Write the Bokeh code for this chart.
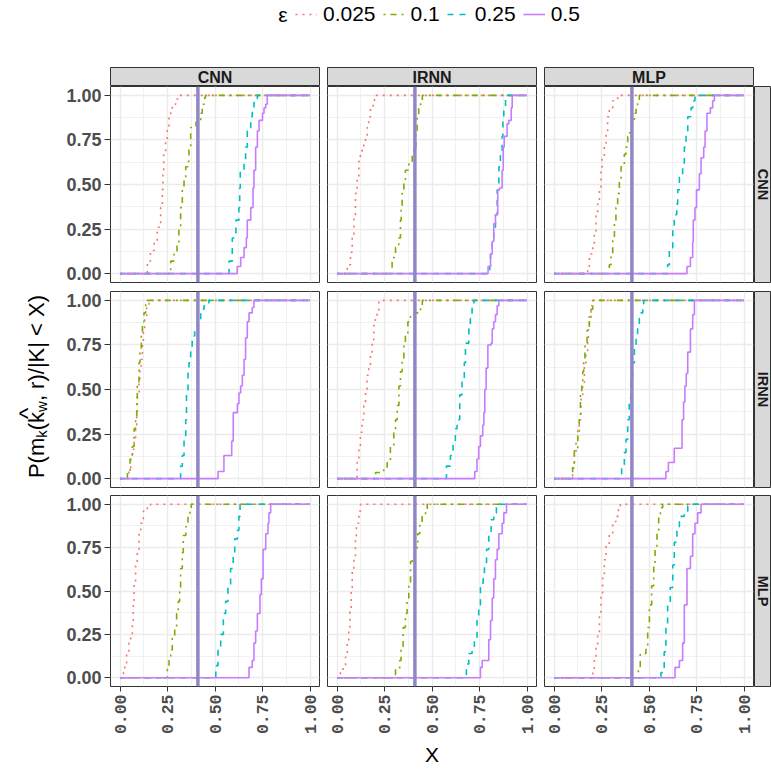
import math
from bokeh.plotting import figure
from bokeh.models import (Range1d, LinearAxis, Grid, FixedTicker, PrintfTickFormatter,
                          Span, Legend, LegendItem, Label)
from bokeh.layouts import row, column
from bokeh.embed import file_html
from bokeh.resources import INLINE
from bokeh.core.properties import value

# ---------------- data ----------------
FACETS = ["CNN", "IRNN", "MLP"]
EPS_LABELS = ["0.025", "0.1", "0.25", "0.5"]
TICKS = [0.0, 0.25, 0.5, 0.75, 1.0]
MINOR_TICKS = [0.125, 0.375, 0.625, 0.875]
VLINE_X = 0.41

# row facet CNN, column facet CNN
cnn_cnn_e0025 = [(.126,0),(.144,.07),(.16,.13),(.18,.18),(.196,.26),(.214,.37),(.223,.47),(.226,.58),(.23,.67),(.24,.75),(.249,.82),(.258,.88),(.267,.92),(.275,.95),(.293,.98),(.31,1.0)]
cnn_cnn_e01 = [(.249,0),(.267,.07),(.284,.11),(.30,.165),(.31,.26),(.319,.37),(.328,.47),(.337,.54),(.346,.60),(.358,.63),(.363,.71),(.372,.82),(.40,.85),(.425,.90),(.433,.95),(.446,.99),(.45,1.0)]
cnn_cnn_e025 = [(.565,0),(.574,.07),(.591,.20),(.61,.30),(.626,.37),(.63,.48),(.633,.58),(.653,.63),(.661,.71),(.67,.80),(.688,.88),(.696,.93),(.705,.96),(.723,1.0)]
cnn_cnn_e05 = [(.609,0),(.617,.04),(.635,.09),(.653,.146),(.665,.20),(.67,.30),(.688,.37),(.70,.48),(.705,.58),(.714,.71),(.723,.80),(.732,.86),(.75,.90),(.758,.93),(.767,.95),(.775,1.0)]
# row CNN, column IRNN
cnn_irnn_e0025 = [(.045,0),(.054,.05),(.071,.12),(.08,.22),(.089,.33),(.097,.45),(.106,.54),(.115,.63),(.123,.69),(.141,.73),(.15,.77),(.159,.82),(.167,.88),(.176,.93),(.19,.97),(.197,1.0)]
cnn_irnn_e01 = [(.281,0),(.29,.09),(.308,.146),(.325,.20),(.334,.30),(.338,.37),(.343,.47),(.352,.52),(.36,.58),(.378,.62),(.396,.67),(.404,.71),(.415,.80),(.422,.88),(.43,.93),(.44,.97),(.449,1.0)]
cnn_irnn_e025 = [(.799,0),(.804,.04),(.808,.11),(.817,.18),(.825,.26),(.834,.33),(.843,.47),(.852,.60),(.86,.69),(.869,.77),(.873,.86),(.878,.93),(.887,1.0)]
cnn_irnn_e05 = [(.79,0),(.795,.04),(.808,.11),(.817,.18),(.825,.28),(.834,.33),(.846,.47),(.855,.48),(.869,.58),(.875,.71),(.88,.77),(.895,.84),(.904,.86),(.917,.93),(.922,1.0)]
# row CNN, column MLP
cnn_mlp_e0025 = [(.168,0),(.177,.04),(.186,.11),(.204,.165),(.212,.22),(.221,.33),(.23,.39),(.239,.48),(.247,.58),(.253,.65),(.265,.73),(.274,.80),(.282,.88),(.291,.93),(.309,.97),(.335,1.0)]
cnn_mlp_e01 = [(.279,0),(.291,.05),(.30,.11),(.309,.20),(.318,.28),(.326,.37),(.335,.45),(.344,.52),(.353,.60),(.37,.67),(.379,.71),(.388,.77),(.396,.79),(.41,.84),(.423,.90),(.432,.93),(.44,.97),(.449,1.0)]
cnn_mlp_e025 = [(.589,0),(.598,.05),(.607,.146),(.625,.26),(.633,.33),(.646,.39),(.651,.47),(.66,.54),(.677,.62),(.686,.71),(.695,.80),(.704,.88),(.721,.93),(.73,.97),(.742,1.0)]
cnn_mlp_e05 = [(.695,0),(.70,.04),(.718,.09),(.73,.18),(.733,.30),(.742,.37),(.75,.47),(.765,.56),(.774,.65),(.788,.71),(.795,.80),(.805,.90),(.823,.93),(.835,.97),(.844,1.0)]
# row IRNN, column CNN
irnn_cnn_e0025 = [(.039,0),(.047,.06),(.056,.11),(.065,.165),(.074,.22),(.082,.30),(.088,.37),(.091,.47),(.10,.54),(.105,.62),(.112,.67),(.118,.75),(.123,.84),(.13,.90),(.14,.97),(.153,1.0)]
irnn_cnn_e01 = [(.03,0),(.039,.034),(.053,.11),(.065,.18),(.074,.28),(.082,.33),(.088,.45),(.091,.52),(.10,.65),(.105,.71),(.112,.80),(.118,.88),(.126,.93),(.135,.99),(.144,1.0)]
irnn_cnn_e025 = [(.31,0),(.319,.07),(.328,.13),(.337,.22),(.346,.33),(.35,.47),(.358,.60),(.363,.65),(.372,.71),(.38,.80),(.393,.85),(.407,.88),(.425,.95),(.442,.97),(.468,1.0)]
irnn_cnn_e05 = [(.512,0),(.516,.04),(.547,.13),(.588,.21),(.596,.37),(.618,.42),(.626,.48),(.635,.52),(.644,.58),(.653,.67),(.661,.79),(.67,.88),(.679,.93),(.696,.96),(.705,1.0)]
# row IRNN, column IRNN
irnn_irnn_e0025 = [(.097,0),(.106,.09),(.115,.165),(.123,.26),(.132,.33),(.141,.43),(.15,.50),(.158,.58),(.167,.63),(.176,.71),(.185,.78),(.194,.86),(.202,.91),(.211,.93),(.22,1.0)]
irnn_irnn_e01 = [(.203,.034),(.246,.05),(.264,.09),(.281,.18),(.299,.28),(.308,.33),(.317,.41),(.326,.52),(.334,.60),(.343,.67),(.352,.75),(.36,.80),(.373,.88),(.387,.91),(.405,.93),(.44,.96),(.449,1.0)]
irnn_irnn_e025 = [(.562,0),(.576,.07),(.597,.13),(.611,.20),(.623,.28),(.632,.33),(.646,.47),(.658,.56),(.67,.65),(.676,.76),(.694,.84),(.702,.90),(.711,.96),(.72,1.0)]
irnn_irnn_e05 = [(.72,0),(.725,.04),(.737,.11),(.746,.18),(.755,.24),(.767,.30),(.773,.37),(.778,.50),(.785,.62),(.794,.75),(.811,.76),(.817,.84),(.825,.88),(.834,.92),(.843,.97),(.852,1.0)]
# row IRNN, column MLP
irnn_mlp_e0025 = [(.09,0),(.098,.07),(.107,.146),(.116,.20),(.125,.28),(.133,.33),(.142,.45),(.151,.54),(.16,.63),(.168,.71),(.177,.77),(.181,.84),(.186,.92),(.195,.97),(.204,1.0)]
irnn_mlp_e01 = [(.081,0),(.098,.06),(.107,.156),(.125,.26),(.133,.33),(.139,.47),(.146,.52),(.151,.60),(.156,.67),(.163,.75),(.174,.84),(.186,.90),(.195,.95),(.204,1.0)]
irnn_mlp_e025 = [(.349,0),(.356,.08),(.37,.146),(.379,.22),(.388,.33),(.396,.45),(.405,.55),(.414,.65),(.423,.75),(.432,.80),(.44,.84),(.449,.90),(.458,.93),(.467,.98),(.472,1.0)]
irnn_mlp_e05 = [(.581,0),(.589,.04),(.602,.09),(.633,.17),(.674,.33),(.682,.43),(.689,.52),(.696,.59),(.704,.71),(.718,.84),(.73,.92),(.739,1.0)]
# row MLP, column CNN
mlp_cnn_e0025 = [(.007,0),(.018,.03),(.025,.08),(.035,.14),(.047,.20),(.056,.25),(.065,.33),(.07,.44),(.074,.55),(.082,.65),(.091,.72),(.10,.83),(.109,.89),(.123,.96),(.144,.99),(.161,1.0)]
mlp_cnn_e01 = [(.246,0),(.249,.05),(.258,.10),(.267,.16),(.275,.23),(.288,.29),(.298,.37),(.307,.44),(.314,.52),(.319,.63),(.328,.72),(.333,.82),(.346,.87),(.358,.93),(.368,.97),(.375,1.0)]
mlp_cnn_e025 = [(.495,0),(.504,.07),(.516,.16),(.53,.25),(.544,.37),(.556,.44),(.568,.53),(.582,.63),(.596,.70),(.604,.80),(.618,.85),(.626,.93),(.632,1.0)]
mlp_cnn_e05 = [(.67,0),(.679,.06),(.696,.10),(.705,.20),(.714,.27),(.723,.37),(.737,.48),(.744,.57),(.753,.74),(.767,.83),(.779,.89),(.784,.95),(.793,1.0)]
# row MLP, column IRNN
mlp_irnn_e0025 = [(.01,0),(.018,.03),(.032,.07),(.045,.12),(.054,.20),(.062,.29),(.068,.38),(.075,.52),(.08,.61),(.089,.70),(.097,.80),(.102,.89),(.115,.96),(.124,1.0)]
mlp_irnn_e01 = [(.299,0),(.308,.05),(.33,.10),(.337,.18),(.348,.29),(.36,.37),(.369,.46),(.378,.55),(.387,.67),(.396,.70),(.41,.75),(.425,.83),(.436,.89),(.448,.94),(.466,.97),(.475,1.0)]
mlp_irnn_e025 = [(.671,0),(.681,.08),(.694,.14),(.711,.18),(.723,.23),(.737,.33),(.746,.42),(.755,.52),(.769,.57),(.776,.65),(.787,.74),(.799,.83),(.811,.91),(.825,.95),(.839,1.0)]
mlp_irnn_e05 = [(.746,0),(.755,.06),(.764,.10),(.799,.22),(.808,.33),(.817,.46),(.825,.57),(.834,.68),(.843,.74),(.852,.83),(.869,.89),(.878,.95),(.892,1.0)]
# row MLP, column MLP
mlp_mlp_e0025 = [(.181,0),(.204,.04),(.212,.10),(.221,.18),(.23,.25),(.239,.37),(.247,.48),(.256,.59),(.265,.68),(.274,.76),(.291,.83),(.309,.90),(.326,.93),(.339,.97),(.349,1.0)]
mlp_mlp_e01 = [(.437,0),(.444,.05),(.454,.14),(.484,.18),(.493,.29),(.502,.42),(.514,.53),(.525,.65),(.532,.74),(.542,.85),(.551,.93),(.56,.98),(.572,1.0)]
mlp_mlp_e025 = [(.554,0),(.563,.03),(.58,.15),(.589,.29),(.598,.42),(.612,.52),(.625,.65),(.633,.78),(.647,.87),(.66,.93),(.686,.96),(.704,.99),(.718,1.0)]
mlp_mlp_e05 = [(.63,0),(.637,.06),(.66,.10),(.677,.20),(.686,.42),(.70,.63),(.718,.70),(.73,.83),(.742,.89),(.756,.95),(.774,1.0)]

PANELS = {
    ("CNN", "CNN"): [cnn_cnn_e0025, cnn_cnn_e01, cnn_cnn_e025, cnn_cnn_e05],
    ("CNN", "IRNN"): [cnn_irnn_e0025, cnn_irnn_e01, cnn_irnn_e025, cnn_irnn_e05],
    ("CNN", "MLP"): [cnn_mlp_e0025, cnn_mlp_e01, cnn_mlp_e025, cnn_mlp_e05],
    ("IRNN", "CNN"): [irnn_cnn_e0025, irnn_cnn_e01, irnn_cnn_e025, irnn_cnn_e05],
    ("IRNN", "IRNN"): [irnn_irnn_e0025, irnn_irnn_e01, irnn_irnn_e025, irnn_irnn_e05],
    ("IRNN", "MLP"): [irnn_mlp_e0025, irnn_mlp_e01, irnn_mlp_e025, irnn_mlp_e05],
    ("MLP", "CNN"): [mlp_cnn_e0025, mlp_cnn_e01, mlp_cnn_e025, mlp_cnn_e05],
    ("MLP", "IRNN"): [mlp_irnn_e0025, mlp_irnn_e01, mlp_irnn_e025, mlp_irnn_e05],
    ("MLP", "MLP"): [mlp_mlp_e0025, mlp_mlp_e01, mlp_mlp_e025, mlp_mlp_e05],
}

# ---------------- style ----------------
FONT = "Liberation Sans"
MONO = "Liberation Mono"
COLORS = ["#F8766D", "#7CAE00", "#00BFC4", "#C77CFF"]
DASHES = ["2 5", "2 5 6 5", "6 6", "solid"]
LW = 1.6
VCOLOR = "#8F87C6"
BORDER = "#333333"
STRIP_FILL = "#D9D9D9"
GRID = "#EBEBEB"

FW, FH = 209, 196
LEFT_B = [52, 4, 4]
RIGHT_B = [4, 4, 1]
BOT_B = [9, 8, 78]
STRIP_H = 19
RSTRIP_W = 17
LEG_H = 67
YLAB_W = 58


def base_fig(w, h, lb, rb, tb, bb, xr, yr):
    p = figure(width=w, height=h, x_range=xr, y_range=yr, x_axis_type=None, y_axis_type=None,
               toolbar_location=None, output_backend="svg",
               min_border_left=lb, min_border_right=rb, min_border_top=tb, min_border_bottom=bb)
    p.border_fill_color = "white"
    p.background_fill_color = "white"
    p.outline_line_color = None
    return p


def style_axis(ax, font, size):
    ax.axis_line_color = None
    ax.major_tick_line_color = BORDER
    ax.major_tick_line_width = 1
    ax.major_tick_in = 0
    ax.major_tick_out = 6
    ax.minor_tick_line_color = None
    ax.major_label_text_font = font
    ax.major_label_text_font_style = "bold"
    ax.major_label_text_font_size = size
    ax.major_label_text_color = "#4D4D4D"
    ax.major_label_standoff = 3


def make_panel(ri, ci):
    rname, cname = FACETS[ri], FACETS[ci]
    lb, rb, bb = LEFT_B[ci], RIGHT_B[ci], BOT_B[ri]
    p = base_fig(FW + lb + rb, FH + bb, lb, rb, 0, bb, Range1d(-0.05, 1.05), Range1d(-0.05, 1.05))
    p.outline_line_color = BORDER
    p.outline_line_width = 1
    for dim in (0, 1):
        p.add_layout(Grid(dimension=dim, ticker=FixedTicker(ticks=TICKS, minor_ticks=MINOR_TICKS),
                          grid_line_color=GRID, grid_line_width=1.4,
                          minor_grid_line_color=GRID, minor_grid_line_width=0.7))
    if ci == 0:
        ya = LinearAxis(ticker=FixedTicker(ticks=TICKS), formatter=PrintfTickFormatter(format="%.2f"))
        style_axis(ya, FONT, "18px")
        p.add_layout(ya, "left")
    if ri == 2:
        xa = LinearAxis(ticker=FixedTicker(ticks=TICKS), formatter=PrintfTickFormatter(format="%.2f"))
        style_axis(xa, MONO, "16.5px")
        xa.major_tick_out = 5
        xa.major_label_standoff = 3
        xa.major_label_orientation = math.pi / 2
        if ci == 1:
            xa.axis_label = "X"
            xa.axis_label_text_font = FONT
            xa.axis_label_text_font_style = "normal"
            xa.axis_label_text_font_size = "21px"
            xa.axis_label_text_color = "black"
            xa.axis_label_standoff = 6
        p.add_layout(xa, "below")
    for k, pts in enumerate(PANELS[(rname, cname)]):
        xs = [0.0] + [a for a, b in pts] + [1.0]
        ys = [0.0] + [b for a, b in pts] + [1.0]
        p.step(x=xs, y=ys, mode="after", line_color=COLORS[k], line_dash=DASHES[k], line_width=LW)
    p.add_layout(Span(location=VLINE_X, dimension="height", line_color=VCOLOR, line_width=3.5))
    return p


def make_top_strip(ci):
    lb, rb = LEFT_B[ci], RIGHT_B[ci]
    p = base_fig(FW + lb + rb, STRIP_H, lb, rb, 0, 0, Range1d(0, 1), Range1d(0, 1))
    p.background_fill_color = STRIP_FILL
    p.outline_line_color = BORDER
    p.text(x=[0.5], y=[0.5], text=[FACETS[ci]], text_align="center", text_baseline="middle",
           text_font=value(FONT), text_font_style="bold", text_font_size="16px", text_color="#1A1A1A")
    return p


def make_right_strip(ri):
    bb = BOT_B[ri]
    p = base_fig(RSTRIP_W, FH + bb, 0, 0, 0, bb, Range1d(0, 1), Range1d(0, 1))
    p.background_fill_color = STRIP_FILL
    p.outline_line_color = BORDER
    p.text(x=[0.5], y=[0.5], text=[FACETS[ri]], angle=-math.pi / 2, text_align="center",
           text_baseline="middle", text_font=value(FONT), text_font_style="bold",
           text_font_size="14.5px", text_color="#1A1A1A")
    return p


# ---------------- legend ----------------
TOTAL_W = YLAB_W + sum(FW + LEFT_B[i] + RIGHT_B[i] for i in range(3)) + RSTRIP_W
leg = base_fig(TOTAL_W, LEG_H, 0, 0, 0, 0, Range1d(0, TOTAL_W), Range1d(0, LEG_H))
items = []
for k, lab in enumerate(EPS_LABELS):
    r = leg.line(x=[-100, -90], y=[-100, -100], line_color=COLORS[k], line_dash=DASHES[k], line_width=LW)
    items.append(LegendItem(label=lab, renderers=[r]))
legend = Legend(items=items, orientation="horizontal", location=(295, LEG_H - 26),
                glyph_width=22, glyph_height=20, label_standoff=6, spacing=7, padding=0, margin=0,
                border_line_color=None, background_fill_alpha=0,
                label_text_font=FONT, label_text_font_size="21px", label_text_color="black")
leg.add_layout(legend)
leg.add_layout(Label(x=287, y=LEG_H - 14, text="ε", text_align="right", text_baseline="middle",
                     text_font=FONT, text_font_size="21px", text_color="black"))

# ---------------- y axis title ----------------
ROWS_H = STRIP_H + sum(FH + b for b in BOT_B)
ylab = base_fig(YLAB_W, ROWS_H, 0, 0, 0, 0, Range1d(0, YLAB_W), Range1d(0, ROWS_H))
ADV = {"P": .667, "(": .333, ")": .333, "m": .833, "k": .5, "w": .722, ",": .278, " ": .278,
       "r": .333, "/": .278, "|": .26, "K": .667, "<": .584, "X": .667, "^": .469}
MAIN_FS, SUB_FS = 22, 15
pieces = [("P(m", MAIN_FS, 0), ("k", SUB_FS, 5), ("(k", MAIN_FS, 0), ("w", SUB_FS, 5),
          (", r)/|K| < X)", MAIN_FS, 0)]
total = sum(sum(ADV[c] for c in t) * fs for t, fs, _ in pieces)
center_from_top = 386 - LEG_H
ypos = (ROWS_H - center_from_top) - total / 2
base_x = 36
hat_center = None
for t, fs, dx in pieces:
    ylab.text(x=[base_x + dx], y=[ypos], text=[t], angle=math.pi / 2, text_align="left",
              text_baseline="alphabetic", text_font=value(FONT), text_font_size=f"{fs}px",
              text_color="black")
    w = sum(ADV[c] for c in t) * fs
    if t == "(k":
        hat_center = ypos + ADV["("] * fs + ADV["k"] * fs * 0.5 + 4
    ypos += w
# hat over k_w
HAT_FS = 24
ylab.text(x=[base_x - 9], y=[hat_center], text=["^"], angle=math.pi / 2, text_align="center",
          text_baseline="alphabetic", text_font=value(FONT), text_font_size=f"{HAT_FS}px",
          text_color="black")

# ---------------- layout ----------------
top_row = row(*[make_top_strip(c) for c in range(3)])
panel_rows = [row(*([make_panel(r, c) for c in range(3)] + [make_right_strip(r)])) for r in range(3)]
grid_col = column(top_row, *panel_rows)
layout = column(leg, row(ylab, grid_col))

open("out.html", "w").write(file_html(layout, INLINE, "ecdf facets"))
